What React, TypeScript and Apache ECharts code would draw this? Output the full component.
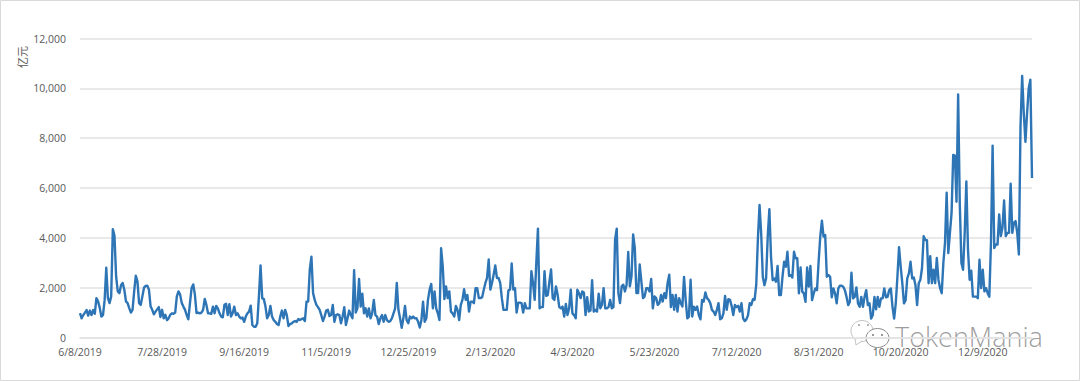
import React, { useEffect, useRef } from "react";
import * as echarts from "echarts";

const startDate = "2019-06-08";
const yTicks = [0, 2000, 4000, 6000, 8000, 10000, 12000];
const unitLabel = "亿元";
const watermark = "TokenMania";

const valuesA = [980,770,900,1000,1100,880,1080,900,1100,950,1580,1450,1200,840,900,1500,2800,1580,1380,1650,4350,4080,2450,1850,1780,2100,2190,1920,1450,1380,1180,1000,1110,1850,2480,2250,1380,1310,1650,2000,2070,2080,1920,1250,1110,930,1040,1130,1220,820,1110,770,910,700,770,910,970,950,1000,1650,1850,1720,1380,1240,1110,900,730,1380,1990,2130,1720,980,1000];
const valuesB = [970,1000,1110,1550,1310,970,970,950,1240,970,1270,1170,970,840,810,1310,1350,900,1340,840,970,1240,900,970,840,770,800,630,840,970,1040,1280,500,430,430,570,1650,2890,1580,1540,1240,770,900,1270,840,700,630,540,500,840,1080,770,1110,900,460,540,570,630,660,630,740,700,740,770,660,1440,1440,2730];
const valuesC = [3240,1780,1510,1310,1220,1110,900,660,840,1080,1110,860,900,1310,630,900,930,900,570,840,1220,500,770,1080,900,770,2700,1000,1170,2350,1240,1760,970,1170,840,1170,770,970,1510,900,840,540,770,900,630,900,700,630,660,770,970,1170,2190,1110,770,390,770,1270,700,570,840,770,840,770,770,630,400,700,1440,630,770,1510,1920,2150,1170,1850,1170,970,700,3580,2860,1540,2050,1580,1850,1040,970,840,1270,1110,700,1310,1510,1940,1510,1710,1040,1440,1440,1380,1980,1980,1580,1580,1620,1920,2190,2390,3130,1920,2190,2520,2890,2390,2390,2190,1580,1110,1110,1110,1890,1920,2970,1920,1980,1000,1400,1400,1380,1000,1380,1170,1170,1170,2660,2190,1510,3000,4370,1170];
const valuesD = [1220,1220,2660,1670,1710,2250,2730,1580,1510,2050,1710,1220,1170,1240,840,1350,900,1170,1920,970,900,770,1920,1780,1580,1850,1810,900,1620,1040,1080,2300,1040,1110,1040,1760,1170,1310,1980,1170,1170,1220,1510,1170,1220,3940,4370,1780,1380,2050,2120,1850,2120,3430,2050,2460,4140,3600,1780,1780,2930,2250,1580,1650,1980,1980,1850,2350,1170,1650,1580,1310,1380,1710,1440,1780,1580,2190,2520,1220,1710,1110,1710,1040,1580,1380,1240,2430,1510,770,840,2320,840,1240,1110,1240,900,730,1510,1440,1810,1580,1510,1380,1110,1040,900,1110,1380,730,770,970,1670,1110,1540,1510,1270,900,1310,1220,1270,1040,1380,770,660,730,900,1380,1310,1540,1510,2120,3940];
const valuesE = [5320,4180,2440,2100,2370,4050,5150,3240,2300,2370,2240,2870,1700,1700,2440,3040,2840,3440,2470,2500,2410,3440,3180,3180,1770,2810,1840,1770,1430,2810,2040,2870,1500,1770,1970,1900,3040,4050,4690,4050,4110,2440,2510,2440,1610,1970,1770,1370,1970,2080,2080,2040,1900,1630,1300,1430,2600,1570,1630,2010,1370,1230,1630,1230,1630,1900,1300,1370,760,900,1630,1130,1630,1230,1570,1570,1970,1610,1630,1900,1970,1230,760,1370,2440,3620,2840,2170,1370,1500,2370,2570,3040,2370,2410,2100,1300];
const valuesF = [2180,2320,2790,4070,3910,3910,2180,3260,2180,2720,2180,3190,2320,1980,1780,3000,3800,5810,3390,4200,5000,7330,7300,5450,9750,5380,2990,2720,4200,6260,3530,2320,2680,1640,1640,1640,1580,3120,1980,2720,1850,1980,1780,1640,3800,7700,3590,3730,3730,4940,4070,4400,5500,4070,4200,4200,6170,4200,4600,4670,4200,3330,8470,10500,9000,7850,9000,10000,10350,6400];

const values = [...valuesA, ...valuesB, ...valuesC, ...valuesD, ...valuesE, ...valuesF];
const start = new Date(startDate + "T00:00:00Z").getTime();
const categories = values.map((_, i) => {
  const d = new Date(start + i * 86400000);
  return `${d.getUTCMonth() + 1}/${d.getUTCDate()}/${d.getUTCFullYear()}`;
});

export default function App() {
  const ref = useRef<HTMLDivElement>(null);
  useEffect(() => {
    const chart = echarts.init(ref.current!, undefined, { renderer: "svg" });
    const wm = "#8c8c8c";
    chart.setOption({
      animation: false,
      backgroundColor: "#ffffff",
      textStyle: { fontFamily: "Open Sans" },
      grid: { left: 80, right: 48, top: 38.5, bottom: 43.5, containLabel: false },
      xAxis: {
        type: "category",
        data: categories,
        boundaryGap: false,
        axisTick: { show: false },
        axisLine: { lineStyle: { color: "#e2e2e2", width: 1.5 } },
        axisLabel: {
          interval: 49,
          color: "#595959",
          fontSize: 10.5,
          margin: 9,
        },
        splitLine: { show: false },
      },
      yAxis: {
        type: "value",
        min: 0,
        max: yTicks[yTicks.length - 1],
        interval: 2000,
        axisLine: { show: false },
        axisTick: { show: false },
        axisLabel: {
          color: "#595959",
          fontSize: 10.5,
          margin: 14,
          formatter: (v: number) => v.toLocaleString("en-US"),
        },
        splitLine: { lineStyle: { color: "#e2e2e2", width: 1.5 } },
      },
      series: [
        {
          type: "line",
          data: values,
          symbol: "none",
          smooth: false,
          lineStyle: { color: "#2e75b6", width: 2.4, join: "round" },
        },
      ],
      graphic: [
        {
          type: "rect",
          silent: true,
          shape: { x: 0.5, y: 0.5, width: 1079, height: 380 },
          style: { fill: "none", stroke: "#d9d9d9", lineWidth: 1 },
        },
        {
          type: "text",
          x: 22,
          y: 57,
          rotation: Math.PI / 2,
          style: { text: unitLabel, fontSize: 11, fill: "#595959", align: "center", verticalAlign: "middle", fontFamily: "Noto Sans CJK SC" },
        },
        { type: "ellipse", silent: true, shape: { cx: 862, cy: 331, rx: 11, ry: 10.5 }, style: { fill: "rgba(255,255,255,0.75)", stroke: "#c4c4c4", lineWidth: 1 } },
        { type: "polyline", silent: true, shape: { points: [[855, 339], [856, 345], [862, 341]] }, style: { fill: "#ffffff", stroke: "#c4c4c4", lineWidth: 1 } },
        { type: "ellipse", silent: true, shape: { cx: 877.5, cy: 338, rx: 11.5, ry: 9.5 }, style: { fill: "#ffffff", stroke: wm, lineWidth: 1 } },
        { type: "circle", silent: true, shape: { cx: 859, cy: 325, r: 1.1 }, style: { fill: "#aaaaaa" } },
        { type: "circle", silent: true, shape: { cx: 868, cy: 325, r: 1.1 }, style: { fill: "#aaaaaa" } },
        { type: "circle", silent: true, shape: { cx: 873, cy: 335, r: 1.1 }, style: { fill: wm } },
        { type: "circle", silent: true, shape: { cx: 882, cy: 335, r: 1.1 }, style: { fill: wm } },
        {
          type: "text",
          silent: true,
          x: 895,
          y: 336,
          style: {
            text: watermark,
            fontSize: 27,
            fontFamily: "Open Sans",
            fontWeight: 300,
            fill: "#8c8c8c",
            opacity: 0.85,
            verticalAlign: "middle",
            align: "left",
          },
        },
      ],
    });
    return () => chart.dispose();
  }, []);
  return <div ref={ref} style={{ position: "absolute", left: 0, top: 0, width: 1080, height: 381 }} />;
}
